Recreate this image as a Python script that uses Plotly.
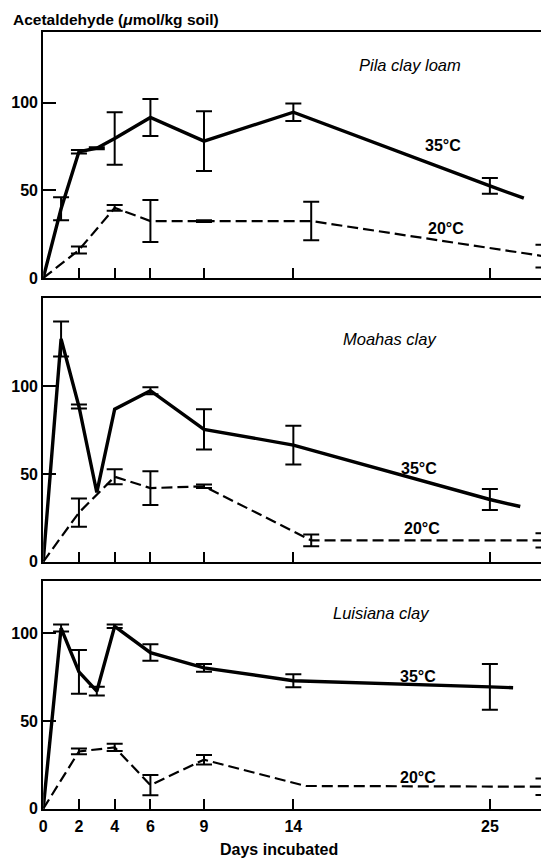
import plotly.graph_objects as go

# ---------------- data ----------------
x_tick_vals = [0, 2, 4, 6, 9, 14, 25]
x_tick_text = ["0", "2", "4", "6", "9", "14", "25"]
y_tick_vals = [0, 50, 100]
y_tick_text = ["0", "50", "100"]

panel_names = ["Pila clay loam", "Moahas clay", "Luisiana clay"]

# Pila clay loam
pila_days_35 = [0, 1, 2, 3, 4, 6, 9, 14, 25, 26.9]
pila_vals_35 = [0, 39.5, 72, 74, 79.5, 91.5, 78, 94.5, 52.5, 45.5]
pila_err_35 = [0, 6.5, 1, 0.6, 15, 10.5, 17, 5, 4.5, 0]
pila_days_20 = [0, 2, 4, 6, 9, 15, 28]
pila_vals_20 = [0, 16, 40, 32.5, 32.5, 32.5, 12.5]
pila_err_20 = [0, 2, 1.7, 12, 0.5, 11, 6.5]

# Moahas clay
moahas_days_35 = [0, 1, 2, 3, 4, 6, 9, 14, 25, 26.7]
moahas_vals_35 = [0, 127, 88.5, 39.5, 87, 97.5, 75.5, 66.5, 35.5, 31.5]
moahas_err_35 = [0, 10, 1.2, 0, 0, 2, 11.5, 11, 6, 0]
moahas_days_20 = [0, 2, 4, 6, 9, 15, 28]
moahas_vals_20 = [0, 28, 48.5, 42, 43, 12.2, 12.2]
moahas_err_20 = [0, 8, 4.3, 9.6, 1, 3.3, 4]

# Luisiana clay
luis_days_35 = [0, 1, 2, 3, 4, 6, 9, 14, 25, 26.3]
luis_vals_35 = [0, 103, 78, 67, 104, 89, 80.3, 73, 69.5, 69]
luis_err_35 = [0, 2, 12.5, 2.5, 1, 4.7, 2.2, 3.7, 13, 0]
luis_days_20 = [0, 2, 4, 6, 9, 14.7, 28]
luis_vals_20 = [0, 32.7, 35, 13.5, 28, 13, 12.6]
luis_err_20 = [0, 1.6, 2, 5.8, 2.7, 0, 4.7]

panels = [
    (pila_days_35, pila_vals_35, pila_err_35, pila_days_20, pila_vals_20, pila_err_20),
    (moahas_days_35, moahas_vals_35, moahas_err_35, moahas_days_20, moahas_vals_20, moahas_err_20),
    (luis_days_35, luis_vals_35, luis_err_35, luis_days_20, luis_vals_20, luis_err_20),
]
y_maxes = [140, 150.4, 129.7]

# ---------------- layout geometry ----------------
W, H = 541, 865
FONT = "Liberation Sans"
left_px = 39.5
panel_px = [(32.7, 281.0), (301.0, 567.7), (587.3, 817.3)]  # (top, bottom)
x_max = (W - left_px) / 18.0

fig = go.Figure()


def add_series(idx, days, vals, errs, dash, width):
    ax = "" if idx == 0 else str(idx + 1)
    fig.add_trace(go.Scatter(
        x=days, y=vals, mode="lines",
        line=dict(color="black", width=width, dash=dash),
        xaxis="x" + ax, yaxis="y" + ax, showlegend=False, hoverinfo="skip",
    ))
    ex = [d for d, e in zip(days, errs) if e > 0]
    ey = [v for v, e in zip(vals, errs) if e > 0]
    ee = [e for e in errs if e > 0]
    fig.add_trace(go.Scatter(
        x=ex, y=ey, mode="markers",
        marker=dict(size=1, color="rgba(0,0,0,0)"),
        error_y=dict(type="data", array=ee, visible=True, color="black",
                     thickness=2, width=8),
        xaxis="x" + ax, yaxis="y" + ax, showlegend=False, hoverinfo="skip",
    ))


for i, (d35, v35, e35, d20, v20, e20) in enumerate(panels):
    add_series(i, d35, v35, e35, "solid", 3.4)
    add_series(i, d20, v20, e20, "11px,5px", 2.2)

layout = dict(
    width=W, height=H,
    margin=dict(l=0, r=0, t=0, b=0),
    paper_bgcolor="white", plot_bgcolor="white",
    font=dict(family=FONT, color="black", size=14),
    showlegend=False,
)

tick_font = dict(size=16, family=FONT, color="black", weight="bold")

for i in range(3):
    ax = "" if i == 0 else str(i + 1)
    top, bot = panel_px[i]
    layout["xaxis" + ax] = dict(
        domain=[left_px / W, 1], range=[0, x_max], anchor="y" + ax,
        showgrid=False, zeroline=False, showline=True, linecolor="black",
        linewidth=2, mirror=True, ticks="inside", ticklen=10, tickwidth=2,
        tickcolor="black", tickvals=x_tick_vals, ticktext=x_tick_text,
        showticklabels=(i == 2), tickfont=tick_font, ticklabelstandoff=2,
        fixedrange=True,
    )
    layout["yaxis" + ax] = dict(
        domain=[1 - bot / H, 1 - top / H], range=[0, y_maxes[i]],
        anchor="x" + ax, showgrid=False, zeroline=False, showline=True,
        linecolor="black", linewidth=2, ticks="inside", ticklen=13,
        tickwidth=2, tickcolor="black", tickvals=y_tick_vals,
        ticktext=y_tick_text, tickfont=tick_font,
        fixedrange=True,
    )

fig.update_layout(**layout)

ann = []


def txt(text, px, py, size=16, xanchor="center", weight="bold"):
    ann.append(dict(text=text, x=px / W, y=1 - py / H, xref="paper", yref="paper",
                    showarrow=False, xanchor=xanchor, yanchor="middle",
                    font=dict(size=size, family=FONT, color="black", weight=weight)))


txt("Acetaldehyde (<i>μ</i>mol/kg soil)", 7, 20, size=15.5, xanchor="left")
txt("<i>" + panel_names[0] + "</i>", 409, 66, size=16.5, weight="normal")
txt("<i>" + panel_names[1] + "</i>", 389, 343, size=16.5, weight="normal")
txt("<i>" + panel_names[2] + "</i>", 380, 619, size=16.5, weight="normal")
txt("35°C", 442, 147)
txt("20°C", 445, 231)
txt("35°C", 418, 473)
txt("20°C", 421, 534)
txt("35°C", 417, 684)
txt("20°C", 417, 786)
txt("Days incubated", 277, 858, size=16)

fig.update_layout(annotations=ann)
fig.write_html(
    "out.html",
    config={"displayModeBar": False},
    post_script=(
        "document.body.style.margin='0px';"
        "document.documentElement.style.overflow='hidden';"
        "document.body.style.overflow='hidden';"
    ),
)
